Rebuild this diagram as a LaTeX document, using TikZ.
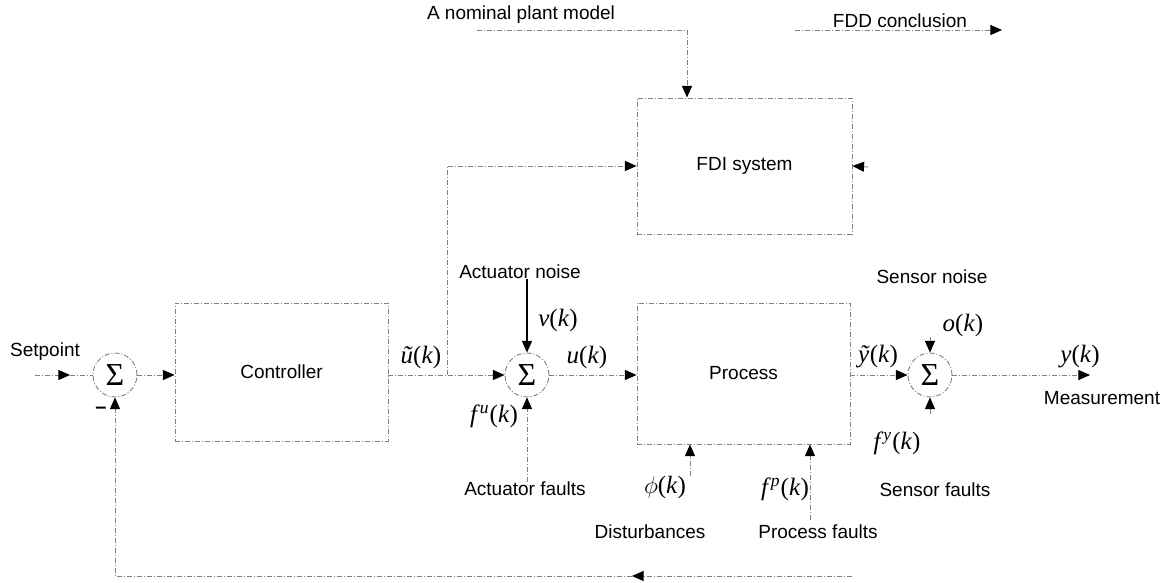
\documentclass[tikz,border=0pt]{standalone}
\usepackage{fontspec}
\setmainfont{Liberation Sans}
\newfontfamily\tms{Liberation Serif}
\usetikzlibrary{arrows.meta}
\newcommand\mlab[1]{{\tms\fontsize{12.5}{14}\selectfont #1}}
\newcommand\sumsym{{\tms\fontsize{16}{17}\selectfont Σ}}
\begin{document}
\begin{tikzpicture}[x=0.5pt,y=-0.5pt,
  lbl/.style={font=\fontsize{9.5}{11}\selectfont, inner sep=0pt},
  mlbl/.style={inner sep=0pt},
  dd/.style={draw=black!50, line width=0.45pt, dash pattern=on 2.5pt off 1pt on 0.5pt off 1pt},
  blk/.style={dd, rectangle, inner sep=0pt, font=\fontsize{9.5}{11}\selectfont},
  sumn/.style={dd, circle, minimum size=22pt, inner sep=0pt},
  tip/.style={-{Triangle[length=5.8pt,width=5pt,color=black]}},
  conn/.style={dd, tip},
  line/.style={dd},
  solidarrow/.style={draw=black, line width=0.6pt, tip}
]
\useasboundingbox (0,0) rectangle (1166,583);
\fill[white] (0,0) rectangle (1166,583);

% blocks
\node[blk, minimum width=106.5pt, minimum height=69pt] (ctrl) at (281.5,372) {Controller};
\node[blk, minimum width=106.5pt, minimum height=70.5pt] (proc) at (743.5,373.5) {Process};
\node[blk, minimum width=107.5pt, minimum height=68pt] (fdi) at (744.5,166) {FDI system};

% summing junctions
\node[sumn] (s1) at (115,375) {\sumsym};
\node[sumn] (s2) at (527,375) {\sumsym};
\node[sumn] (s3) at (930,375) {\sumsym};

% text labels
\node[lbl] (sp) at (45,352) {Setpoint};
\node[lbl] (npm) at (521,15) {A nominal plant model};
\node[lbl] (fdd) at (900,21) {FDD conclusion};
\node[lbl] (an) at (520,272) {Actuator noise};
\node[lbl] (af) at (525,489) {Actuator faults};
\node[lbl] (dist) at (650,532) {Disturbances};
\node[lbl] (pf) at (818,532) {Process faults};
\node[lbl] (sn) at (932,277) {Sensor noise};
\node[lbl] (sf) at (935,490) {Sensor faults};
\node[lbl] (meas) at (1102,398) {Measurement};
\node[lbl, font=\bfseries] (minus) at (101,410) {–};

% signal labels
\node[mlbl] (ut) at (421,357) {\mlab{\textit{ũ}(\textit{k})}};
\node[mlbl] (vk) at (558,320) {\mlab{\textit{v}(\textit{k})}};
\node[mlbl] (uk) at (587,357) {\mlab{\textit{u}(\textit{k})}};
\node[mlbl] (fu) at (494,416) {\mlab{\textit{f}\textsuperscript{\textit{u}}(\textit{k})}};
\node[mlbl] (phi) at (665,487) {\mlab{$\phi$(\textit{k})}};
\node[mlbl] (fp) at (785,489) {\mlab{\textit{f}\textsuperscript{\textit{p}}(\textit{k})}};
\node[mlbl] (yt) at (878,357) {\mlab{\textit{ỹ}(\textit{k})}};
\node[mlbl] (ok) at (963,325) {\mlab{\textit{o}(\textit{k})}};
\node[mlbl] (fy) at (897,443) {\mlab{\textit{f}\textsuperscript{\textit{y}}(\textit{k})}};
\node[mlbl] (yk) at (1080,357) {\mlab{\textit{y}(\textit{k})}};

% coordinates
\coordinate (spin) at (35,375);
\coordinate (spmid) at (70,375);
\coordinate (br) at (447,375);
\coordinate (npma) at (477,30);
\coordinate (npmc) at (687,30);
\coordinate (fdda) at (795,30);
\coordinate (fddb) at (1002,30);
\coordinate (fr) at (868,167);
\coordinate (dst) at (690,476);
\coordinate (pfx) at (810,520);
\coordinate (snx) at (930,337);
\coordinate (sfx) at (930,414);
\coordinate (mout) at (1090,375);
\coordinate (fbr) at (852,576);
\coordinate (fbm) at (632,576);

% connectors
\draw[conn] (spin) -- (spmid);
\draw[line] (spmid) -- (s1.west);
\draw[conn] (s1.east) -- (s1.east -| ctrl.west);
\draw[conn] (ctrl.east |- s2.west) -- (s2.west);
\draw[conn] (br) |- (fdi.west);
\draw[conn] (s2.east) -- (s2.east -| proc.west);
\draw[solidarrow] (s2 |- an.south) -- (s2.north);
\draw[conn] (af.north -| s2) -- (s2.south);
\draw[conn] (dst) -- (dst |- proc.south);
\draw[conn] (pfx) -- (pfx |- proc.south);
\draw[conn] (proc.east |- s3.west) -- (s3.west);
\draw[conn] (snx) -- (s3.north);
\draw[conn] (sfx) -- (s3.south);
\draw[conn] (s3.east) -- (mout);
\draw[conn] (npma) -- (npmc) -- (npmc |- fdi.north);
\draw[conn] (fdda) -- (fddb);
\draw[conn] (fr) -- (fdi.east);
\draw[conn] (fbr) -- (fbm);
\draw[conn] (fbm) -- (fbm -| s1) -- (s1.south);
\end{tikzpicture}
\end{document}
